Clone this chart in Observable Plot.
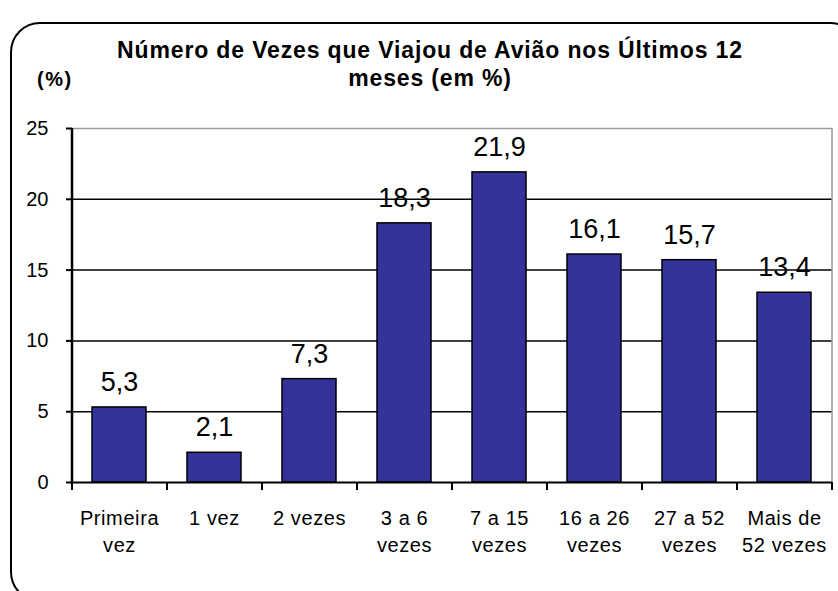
<!DOCTYPE html>
<html>
<head>
<meta charset="utf-8">
<script src="https://cdn.jsdelivr.net/npm/d3@7"></script>
<script src="https://cdn.jsdelivr.net/npm/@observablehq/plot@0.6"></script>
<style>
  html, body { margin: 0; padding: 0; background: #fff; }
  #wrap { position: relative; width: 838px; height: 591px; overflow: hidden; font-family: "Liberation Sans", Arial, sans-serif; color: #000; }
  #border { position: absolute; left: 10px; top: 22px; width: 850px; height: 580px; border: 2px solid #000; border-radius: 30px; box-sizing: border-box; }
  #title { position: absolute; left: 40px; width: 780px; top: 36px; text-align: center; font-weight: bold; font-size: 23px; line-height: 28px; letter-spacing: 0.85px; }
  #unit { position: absolute; left: 37px; top: 68px; font-weight: bold; font-size: 20px; letter-spacing: 1.5px; }
  #chart { position: absolute; left: 0; top: 0; }
  #chart text.xl, #chart g.xl text { letter-spacing: 0.6px; }
</style>
</head>
<body>
<div id="wrap">
  <div id="border"></div>
  <div id="title">Número de Vezes que Viajou de Avião nos Últimos 12<br>meses (em %)</div>
  <div id="unit">(%)</div>
  <div id="chart"></div>
</div>
<script>
const categories = ["Primeira vez", "1 vez", "2 vezes", "3 a 6 vezes", "7 a 15 vezes", "16 a 26 vezes", "27 a 52 vezes", "Mais de 52 vezes"];
const tickLabels = ["Primeira\nvez", "1 vez", "2 vezes", "3 a 6\nvezes", "7 a 15\nvezes", "16 a 26\nvezes", "27 a 52\nvezes", "Mais de\n52 vezes"];
const values = [5.3, 2.1, 7.3, 18.3, 21.9, 16.1, 15.7, 13.4];
const yTicks = [0, 5, 10, 15, 20, 25];

const data = categories.map((c, i) => ({cat: c, label: tickLabels[i], value: values[i]}));

const W = 838, H = 591, ML = 72, MR = 6, MT = 128, MB = 109;
const step = (W - ML - MR) / categories.length;
const font = "Liberation Sans, Arial, sans-serif";

const chart = Plot.plot({
  width: W,
  height: H,
  marginLeft: ML,
  marginRight: MR,
  marginTop: MT,
  marginBottom: MB,
  style: {background: "transparent", color: "#000", fontFamily: font, overflow: "visible"},
  x: {domain: categories, paddingInner: 0.43, paddingOuter: 0.215, axis: null},
  y: {domain: [0, 25], axis: null},
  marks: [
    Plot.ruleY(yTicks.filter(t => t > 0 && t < 25), {stroke: "#000", strokeWidth: 1.5}),
    Plot.ruleY([25], {stroke: "#9a9a9a", strokeWidth: 1.5}),
    Plot.ruleX([categories[categories.length - 1]], {dx: step / 2, y1: 0, y2: 25, stroke: "#9a9a9a", strokeWidth: 1.5}),
    Plot.barY(data, {x: "cat", y: "value", fill: "#333399", stroke: "#000", strokeWidth: 1.5}),
    Plot.ruleY([0], {stroke: "#000", strokeWidth: 2}),
    Plot.ruleX([categories[0]], {dx: -step / 2, y1: 0, y2: 25, stroke: "#000", strokeWidth: 2.5}),
    Plot.ruleX(categories, {x: d => d, dx: -step / 2, y1: 0, y2: -0.57, stroke: "#000", strokeWidth: 2, clip: false}),
    Plot.ruleX([categories[categories.length - 1]], {dx: step / 2, y1: 0, y2: -0.57, stroke: "#000", strokeWidth: 2, clip: false}),
    Plot.axisY({ticks: yTicks, label: null, tickSize: 6, tickPadding: 18, fontSize: 20, stroke: "#000", strokeWidth: 2, fill: "#000", fontFamily: font}),
    Plot.text(data, {x: "cat", y: 0, text: "label", dy: 23, lineAnchor: "top", lineHeight: 1.35, fontSize: 20, fill: "#000", fontFamily: font, className: "xl"}),
    Plot.text(data, {x: "cat", y: "value", text: d => d.value.toFixed(1).replace(".", ","), dy: -25, lineAnchor: "middle", fontSize: 27, fill: "#000", fontFamily: font})
  ]
});
document.getElementById("chart").appendChild(chart);
</script>
</body>
</html>
